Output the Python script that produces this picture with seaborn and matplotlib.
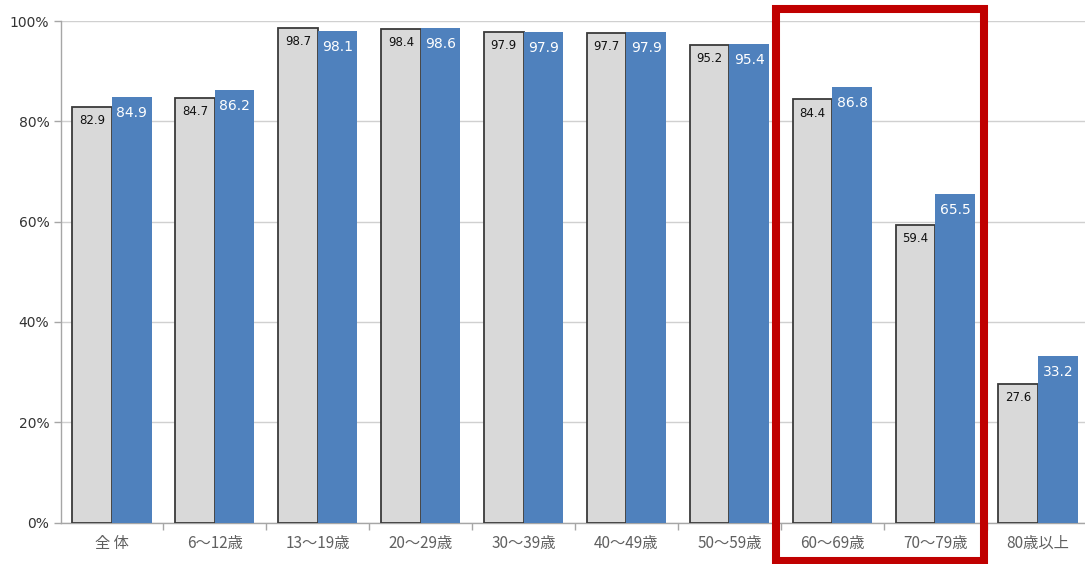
import matplotlib
matplotlib.use("Agg")
import matplotlib.pyplot as plt
import matplotlib.patches as mpatches
from matplotlib.ticker import FixedLocator, PercentFormatter
import seaborn as sns
import pandas as pd

categories = ["全 体", "6～12歳", "13～19歳", "20～29歳", "30～39歳",
              "40～49歳", "50～59歳", "60～69歳", "70～79歳", "80歳以上"]
series_names = ["前回", "今回"]
values_prev = [82.9, 84.7, 98.7, 98.4, 97.9, 97.7, 95.2, 84.4, 59.4, 27.6]
values_curr = [84.9, 86.2, 98.1, 98.6, 97.9, 97.9, 95.4, 86.8, 65.5, 33.2]
y_ticks = [0, 20, 40, 60, 80, 100]

df = pd.DataFrame({
    "age": categories * 2,
    "series": [series_names[0]] * len(categories) + [series_names[1]] * len(categories),
    "value": values_prev + values_curr,
})

sns.set_theme(style="white")
plt.rcParams["font.family"] = ["Noto Sans CJK JP", "DejaVu Sans"]

fig = plt.figure(figsize=(10.85, 5.64), dpi=100)
ax = fig.add_axes([60.5 / 1085, 1 - 522.5 / 564, (1089.5 - 60.5) / 1085, (522.5 - 21) / 564])

sns.barplot(data=df, x="age", y="value", hue="series", order=categories,
            hue_order=series_names, palette=["#d9d9d9", "#4f81bd"],
            width=0.77, gap=0, legend=False, ax=ax, saturation=1, errorbar=None)

# style bars and add value labels
for i, container in enumerate(ax.containers):
    for p in container.patches:
        if i == 0:
            p.set_edgecolor("#3a3a3a")
            p.set_linewidth(1.3)
        else:
            p.set_edgecolor("none")
        p.set_zorder(3)
        xc = p.get_x() + p.get_width() / 2
        h = p.get_height()
        if i == 0:
            ax.annotate(f"{h:.1f}", (xc, h), xytext=(0, -10), textcoords="offset points",
                        ha="center", va="center", fontsize=8.5, color="#111111",
                        family=["DejaVu Sans"], zorder=4)
        else:
            ax.annotate(f"{h:.1f}", (xc, h), xytext=(0, -11.5), textcoords="offset points",
                        ha="center", va="center", fontsize=10, color="white",
                        family=["DejaVu Sans"], zorder=4)

ax.set_ylim(0, 100)
ax.set_xlim(-0.5, len(categories) - 0.5)
ax.set_yticks(y_ticks)
ax.yaxis.set_major_formatter(PercentFormatter(decimals=0))
ax.set_xlabel("")
ax.set_ylabel("")

ax.grid(axis="y", color="#d0d0d0", linewidth=1, zorder=0)
ax.set_axisbelow(True)
for side in ["top", "right"]:
    ax.spines[side].set_visible(False)
for side in ["left", "bottom"]:
    ax.spines[side].set_color("#a6a6a6")
    ax.spines[side].set_linewidth(1)

ax.tick_params(axis="y", left=True, length=5, width=1, color="#a6a6a6",
               labelsize=10, labelcolor="#333333", pad=3)
ax.tick_params(axis="x", which="major", bottom=False, length=0,
               labelsize=11, labelcolor="#606060", pad=9)
ax.xaxis.set_minor_locator(FixedLocator([k - 0.5 for k in range(1, len(categories))]))
ax.tick_params(axis="x", which="minor", bottom=True, length=5, width=1, color="#a6a6a6")
for lbl in ax.get_yticklabels():
    lbl.set_family(["DejaVu Sans"])

rect = mpatches.Rectangle((776 / 1085, 1 - 560.5 / 564), (984 - 776) / 1085, (560.5 - 9) / 564,
                          transform=fig.transFigure, fill=False, edgecolor="#c00000",
                          linewidth=5.8, clip_on=False, zorder=10)
fig.patches.append(rect)

fig.savefig("out.png", dpi=100)
